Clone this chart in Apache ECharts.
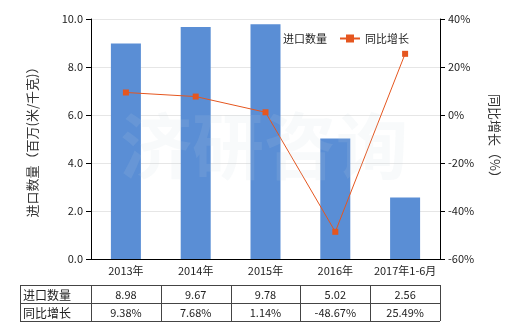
<!DOCTYPE html>
<html><head><meta charset="utf-8">
<script src="https://cdn.jsdelivr.net/npm/echarts@6/dist/echarts.min.js"></script>
<style>html,body{margin:0;padding:0;background:#fff}#c{width:520px;height:330px}</style>
</head><body><div id="c"></div>
<script>
var categories = ['2013年','2014年','2015年','2016年','2017年1-6月'];
var importQty = [8.98, 9.67, 9.78, 5.02, 2.56];
var yoyGrowth = [9.38, 7.68, 1.14, -48.67, 25.49];
var qtyLabels = ['8.98','9.67','9.78','5.02','2.56'];
var yoyLabels = ['9.38%','7.68%','1.14%','-48.67%','25.49%'];
var rowNames = ['进口数量','同比增长'];

var FONT = '"Noto Sans CJK SC", sans-serif';
var chart = echarts.init(document.getElementById('c'));
var gl = 91, gr = 440, gt = 19, gb = 259;
chart.setOption({
  animation: false,
  textStyle: {fontFamily: FONT},
  grid: {left: gl, right: 520 - gr, top: gt, bottom: 330 - gb},
  legend: {
    top: 28, left: 253, itemGap: 12, itemWidth: 20, itemHeight: 10,
    textStyle: {fontSize: 11, color: '#222', fontFamily: FONT},
    data: [{name: '进口数量', icon: 'rect', itemStyle: {opacity: 0}}, {name: '同比增长'}]
  },
  xAxis: {
    type: 'category', data: categories,
    axisLine: {lineStyle: {color: '#000'}},
    axisTick: {show: false},
    axisLabel: {color: '#222', fontSize: 11, margin: 6, interval: 0, fontFamily: FONT}
  },
  yAxis: [{
    type: 'value', min: 0, max: 10, interval: 2,
    name: '进口数量（百万(米/千克)）', nameLocation: 'middle', nameGap: 52, nameRotate: 90,
    nameTextStyle: {fontSize: 13, color: '#333', fontFamily: FONT},
    axisLine: {show: true, lineStyle: {color: '#000'}},
    axisTick: {show: true, length: 5, lineStyle: {color: '#000'}},
    axisLabel: {color: '#222', fontSize: 11, formatter: function(v){return v.toFixed(1);}},
    splitLine: {lineStyle: {color: '#e6e6e6'}}
  }, {
    type: 'value', min: -60, max: 40, interval: 20, position: 'right',
    name: '同比增长（%）', nameLocation: 'middle', nameGap: 48, nameRotate: -90,
    nameTextStyle: {fontSize: 13, color: '#333', fontFamily: FONT},
    axisLine: {show: true, lineStyle: {color: '#000'}},
    axisTick: {show: true, length: 5, lineStyle: {color: '#000'}},
    axisLabel: {color: '#222', fontSize: 11, formatter: '{value}%'},
    splitLine: {show: false}
  }],
  series: [{
    name: '进口数量', type: 'bar', data: importQty, barWidth: 30,
    itemStyle: {color: '#5a8ed5'}
  }, {
    name: '同比增长', type: 'line', yAxisIndex: 1, data: yoyGrowth,
    symbol: 'rect', symbolSize: 6,
    lineStyle: {color: '#e5561f', width: 1},
    itemStyle: {color: '#e5561f'}
  }]
});

// table
var colW = (gr - gl) / categories.length;
var tl = 20, tt = 285, rh = 18;
var els = [];
els.push({type: 'text', left: 120, top: 110, z: 100, silent: true,
  style: {text: '济研咨询', fontSize: 72, fontWeight: 'bold', fill: 'rgba(200,210,225,0.12)', fontFamily: FONT}});
var lineStyle = {stroke: '#444', lineWidth: 1};
var tb = tt + rh * 2;
function ln(x1,y1,x2,y2){els.push({type:'line', shape:{x1:x1,y1:y1,x2:x2,y2:y2}, style: lineStyle});}
for (var r = 0; r <= 2; r++) ln(tl, tt + r*rh + 0.5, gr, tt + r*rh + 0.5);
ln(tl + 0.5, tt, tl + 0.5, tb);
for (var c = 0; c <= categories.length; c++) { var x = Math.round(gl + c*colW) + 0.5; ln(x, tt, x, tb); }
var rows = [qtyLabels, yoyLabels];
for (var r = 0; r < 2; r++) {
  els.push({type:'text', x: tl + 3, y: tt + r*rh + rh/2 + 1, style:{text: rowNames[r], fontSize: 12, fill:'#222', verticalAlign:'middle', fontFamily: FONT}});
  for (var c = 0; c < categories.length; c++) {
    els.push({type:'text', x: gl + (c+0.5)*colW, y: tt + r*rh + rh/2 + 1, style:{text: rows[r][c], fontSize: 11, fill:'#222', align:'center', verticalAlign:'middle', fontFamily: FONT}});
  }
}
chart.setOption({graphic: els});
</script></body></html>
